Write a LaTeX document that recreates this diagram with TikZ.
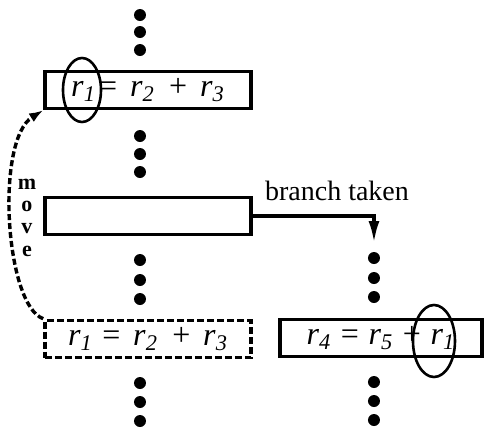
\documentclass[tikz,border=0pt]{standalone}
\usepackage{fontspec}
\setmainfont{Liberation Serif}
\usetikzlibrary{shapes.geometric,arrows.meta}
\newcommand{\reg}[1]{\textit{r}\textsubscript{\textit{#1}}}

\begin{document}
\begin{tikzpicture}[x=0.5pt, y=-0.5pt,
    instr/.style={draw, line width=1.8pt, minimum width=103pt, minimum height=18.5pt, inner sep=0pt, font=\fontsize{16}{18}\selectfont},
    ghost/.style={instr, dash pattern=on 3.5pt off 1.5pt},
    oval/.style={draw, ellipse, line width=1.3pt, inner sep=0pt},
    flow/.style={line width=1.7pt}]
\useasboundingbox (0,0) rectangle (484,430);
% instructions
\node[instr] (def) at (148,90) {\reg{1}\hspace{.1em}=\hspace{.4em}\reg{2}\hspace{.45em}+\hspace{.4em}\reg{3}\hspace{8pt}};
\node[instr] (brn) at (148,216) {};
\node[ghost] (old) at (148,339) {\reg{1}\hspace{.3em}=\hspace{.4em}\reg{2}\hspace{.45em}+\hspace{.4em}\reg{3}\hspace{6pt}};
\node[instr, minimum width=101pt] (use) at (381,338) {\reg{4}\hspace{.3em}=\hspace{.3em}\reg{5}\hspace{.3em}+\hspace{.3em}\reg{1}\hspace{4pt}};
% the register r1
\node[oval, minimum width=19pt, minimum height=32pt] (defreg) at (82,90) {};
\node[oval, minimum width=21pt, minimum height=36pt] (usereg) at (434,341) {};
% elided code
\foreach \y in {15,32,50,136,154,172,260,280,299,383,402,421}
    \fill (140,\y) circle (3pt);
\foreach \y in {258,278,297,382,401,420}
    \fill (374,\y) circle (3pt);
% branch
\coordinate (target) at (374,243);
\draw[flow, -{Latex[length=11pt,width=5.5pt]}] (brn.east) -| (target);
\node[anchor=base west, font=\fontsize{14}{16}\selectfont] (taken) at (258,200) {branch taken};
% move
\draw[flow, dash pattern=on 3pt off 1.5pt, -{Latex[length=7pt,width=5pt]}]
    (old.north west) .. controls (5,305) and (-5,140) .. (def.south west);
\foreach \l [count=\i] in {m,o,v,e}
    \node[anchor=base, inner sep=0pt, font=\fontsize{11}{11}\selectfont\bfseries] (mv\i) at (27,167+22.3*\i) {\l};
\end{tikzpicture}
\end{document}
